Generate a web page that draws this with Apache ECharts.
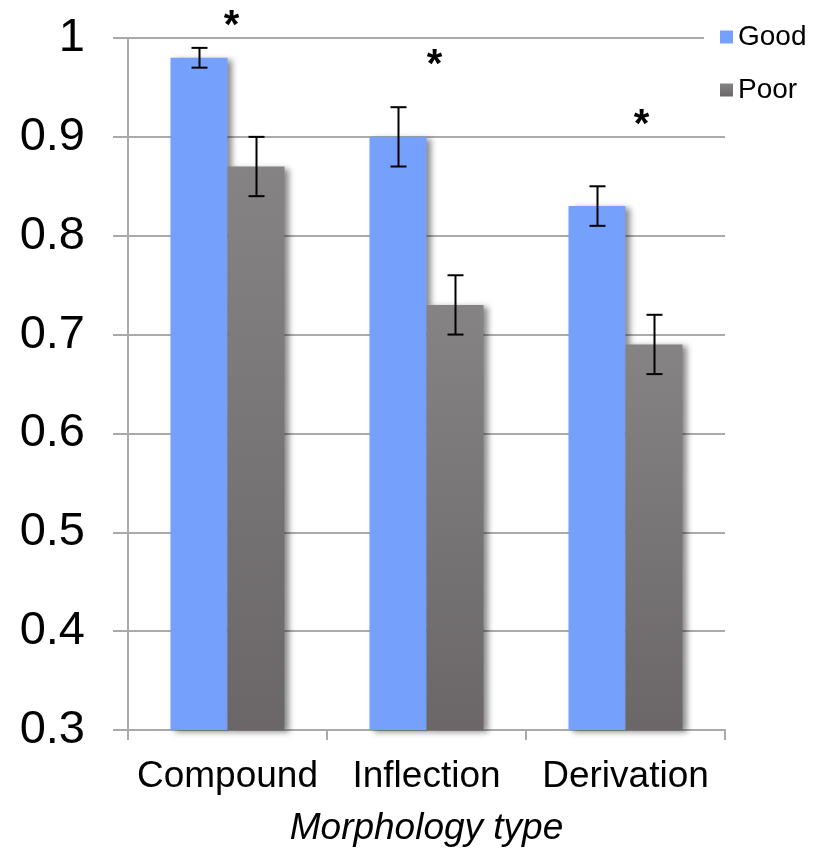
<!DOCTYPE html>
<html>
<head>
<meta charset="utf-8">
<script src="https://cdn.jsdelivr.net/npm/echarts@6/dist/echarts.min.js"></script>
<style>
  html, body { margin: 0; padding: 0; background: #fff; }
  #chart { width: 827px; height: 852px; }
</style>
</head>
<body>
<div id="chart"></div>
<script>
// Accuracy by morphology type, split by reader group
const categories = ['Compound', 'Inflection', 'Derivation'];
const goodVals = [0.98, 0.90, 0.83];
const poorVals = [0.87, 0.73, 0.69];
const goodErr = [0.01, 0.03, 0.02];
const poorErr = [0.03, 0.03, 0.03];
const yTicks = [0.3, 0.4, 0.5, 0.6, 0.7, 0.8, 0.9, 1];
// significance stars: [category index, height on value axis]
const sigMarks = [[0, 1.020], [1, 0.981], [2, 0.920]];

// drawing constants
const BAR_W = 57;
const SIG_SHIFT = [4, 8, 16];
const FONT = '"Liberation Sans", Arial, Helvetica, sans-serif';

const chart = echarts.init(document.getElementById('chart'), null, { renderer: 'canvas' });

function errData(vals, errs) {
  return vals.map((v, i) => [i, v - errs[i], v + errs[i]]);
}

function errRender(side) {
  return function (params, api) {
    const i = api.value(0);
    const lo = api.coord([i, api.value(1)]);
    const hi = api.coord([i, api.value(2)]);
    const x = Math.round(lo[0] + side * BAR_W / 2) + 0.5;
    const cap = 8;
    const style = { stroke: '#000', lineWidth: 2 };
    return {
      type: 'group',
      children: [
        { type: 'line', shape: { x1: x, y1: hi[1], x2: x, y2: lo[1] }, style },
        { type: 'line', shape: { x1: x - cap, y1: hi[1], x2: x + cap, y2: hi[1] }, style },
        { type: 'line', shape: { x1: x - cap, y1: lo[1], x2: x + cap, y2: lo[1] }, style }
      ]
    };
  };
}

const gridColor = '#aaaaaa';
const barShadow = {
  shadowBlur: 6,
  shadowOffsetX: 4,
  shadowOffsetY: 2,
  shadowColor: 'rgba(0,0,0,0.45)'
};

const option = {
  animation: false,
  backgroundColor: '#fff',
  grid: { left: 128, right: 102, top: 38, bottom: 121, containLabel: false },
  legend: {
    orient: 'vertical',
    left: 704,
    top: 19,
    padding: [4, 6, 4, 16],
    backgroundColor: '#fff',
    itemWidth: 13,
    itemHeight: 13,
    itemGap: 25,
    icon: 'rect',
    textStyle: { fontFamily: FONT, fontSize: 28, color: '#000', lineHeight: 28 },
    data: ['Good', 'Poor']
  },
  xAxis: {
    type: 'category',
    data: categories,
    boundaryGap: true,
    axisLine: { show: true, lineStyle: { color: gridColor, width: 2 } },
    axisTick: { show: true, length: 10, lineStyle: { color: gridColor, width: 2 } },
    axisLabel: { interval: 0, fontFamily: FONT, fontSize: 37, color: '#000', margin: 28 },
    name: 'Morphology type',
    nameLocation: 'middle',
    nameGap: 80,
    nameTextStyle: { fontFamily: FONT, fontSize: 37, fontStyle: 'italic', color: '#000' }
  },
  yAxis: {
    type: 'value',
    min: 0.3,
    max: 1,
    interval: 0.1,
    axisLine: { show: true, lineStyle: { color: gridColor, width: 2 } },
    axisTick: { show: true, length: 15, lineStyle: { color: gridColor, width: 2 } },
    splitLine: { show: true, lineStyle: { color: gridColor, width: 2 } },
    axisLabel: {
      fontFamily: FONT, fontSize: 47, color: '#000', margin: 43,
      formatter: v => {
        const t = yTicks.find(k => Math.abs(k - v) < 1e-6);
        return t === undefined ? '' : String(t);
      }
    }
  },
  series: [
    {
      name: 'Good',
      type: 'bar',
      data: goodVals,
      barWidth: BAR_W,
      barGap: '0%',
      itemStyle: Object.assign({ color: '#75a1fd' }, barShadow),
      z: 2
    },
    {
      name: 'Poor',
      type: 'bar',
      data: poorVals,
      barWidth: BAR_W,
      barGap: '0%',
      itemStyle: Object.assign({
        color: new echarts.graphic.LinearGradient(0, 0, 0, 1, [
          { offset: 0, color: '#858384' },
          { offset: 1, color: '#6b6768' }
        ])
      }, barShadow),
      z: 2
    },
    {
      name: 'GoodErr',
      type: 'custom',
      data: errData(goodVals, goodErr),
      renderItem: errRender(-1),
      z: 5,
      silent: true
    },
    {
      name: 'PoorErr',
      type: 'custom',
      data: errData(poorVals, poorErr),
      renderItem: errRender(1),
      z: 5,
      silent: true
    },
    {
      name: 'Sig',
      type: 'custom',
      data: sigMarks,
      clip: false,
      z: 6,
      silent: true,
      renderItem: function (params, api) {
        const i = api.value(0);
        const p = api.coord([i, api.value(1)]);
        return {
          type: 'text',
          x: p[0] + SIG_SHIFT[params.dataIndex],
          y: p[1] + 9,
          style: {
            text: '*',
            fontFamily: FONT,
            fontSize: 40,
            fontWeight: 'bold',
            fill: '#000',
            align: 'center',
            verticalAlign: 'middle'
          }
        };
      }
    }
  ]
};

chart.setOption(option);
</script>
</body>
</html>
